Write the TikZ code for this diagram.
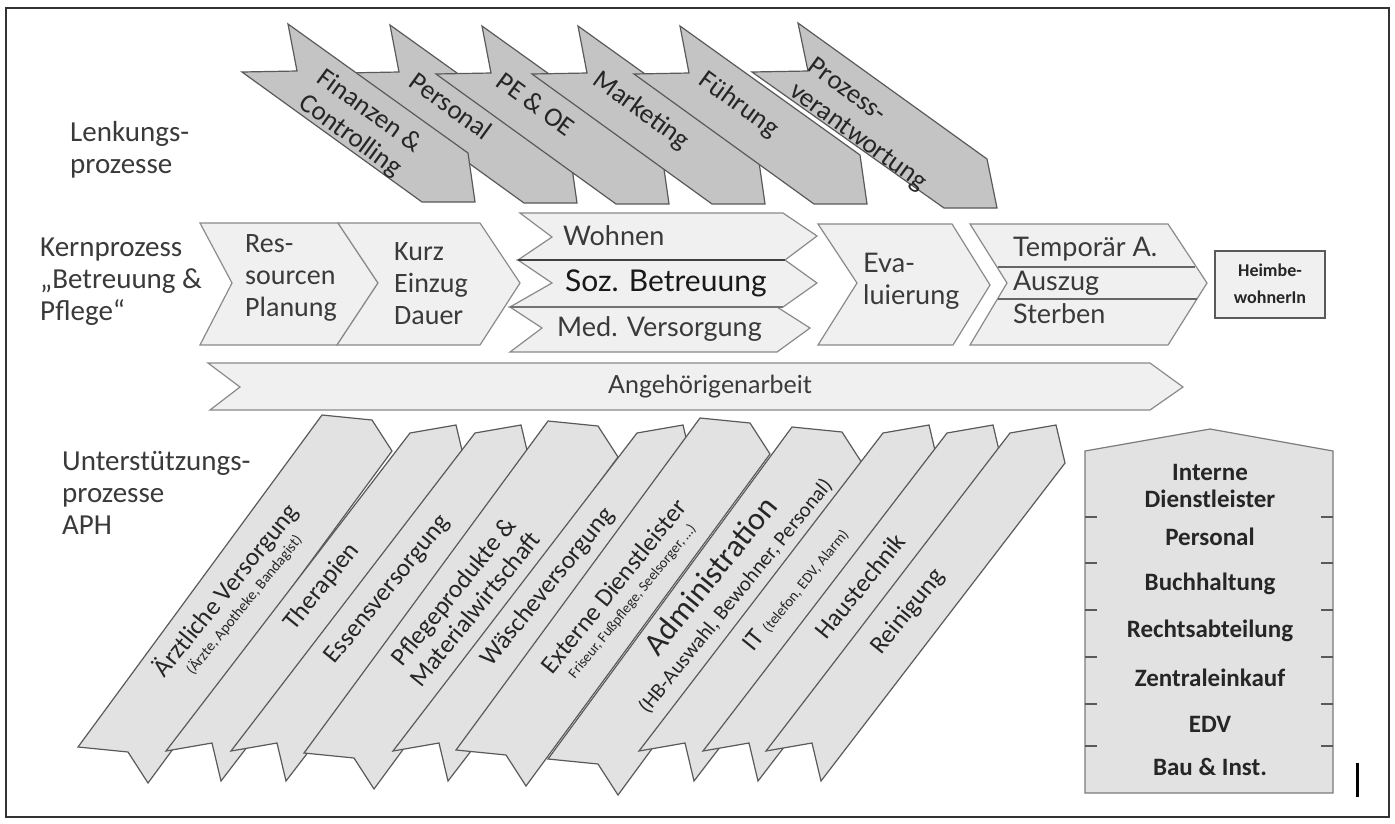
\documentclass[tikz,border=0pt]{standalone}
\usepackage{fontspec}
\setmainfont{Carlito}
\newfontfamily\latofont{Lato}
\definecolor{topfill}{HTML}{C4C4C4}
\definecolor{coref}{HTML}{F0F0F0}
\definecolor{supf}{HTML}{E2E2E2}
\definecolor{edgeg}{HTML}{5A5A5A}
\definecolor{coreedge}{HTML}{8A8A8A}
\definecolor{txtg}{HTML}{3A3A3A}
\newcommand{\toparrowsmall}[2]{\draw[toparrow] (#1,#2) -- ++(180,129) -- ++(7,49) -- ++(-53,0) -- ++(-180,-130) -- ++(55,-1) -- cycle;}
\newcommand{\suparrA}[2]{\draw[suparrow] (#1,#2) -- ++(46,-8) -- ++(9,38) -- ++(-244,318) -- ++(-9,-38) -- ++(-46,8) -- cycle;}
\newcommand{\suparrB}[2]{\draw[suparrow] (#1,#2) -- ++(50,5) -- ++(20,31) -- ++(-244,332) -- ++(-20,-31) -- ++(-50,-5) -- cycle;}
\begin{document}
\begin{tikzpicture}[x=1pt,y=-1pt,
  toparrow/.style={fill=topfill,draw=edgeg,line width=1.2pt,line join=miter},
  coreshape/.style={fill=coref,draw=coreedge,line width=1.2pt,line join=miter},
  suparrow/.style={fill=supf,draw=edgeg,line width=1.2pt,line join=miter},
  sidelabel/.style={anchor=west,align=left,text=txtg,font=\fontsize{29}{32}\selectfont,inner sep=0pt},
  toptxt/.style={rotate=-36,align=left,text=black!85,font=\fontsize{27}{31}\selectfont,inner sep=0pt},
  coretxt/.style={anchor=west,align=left,text=txtg,font=\fontsize{28}{32}\selectfont,inner sep=0pt},
  latotxt/.style={anchor=west,align=left,text=txtg,font=\latofont\fontsize{27}{32}\selectfont,inner sep=0pt},
  suptxt/.style={rotate=51,align=center,text=black!85,font=\fontsize{25.5}{26}\selectfont,inner sep=0pt},
  boxtxt/.style={text=black!85,font=\bfseries\fontsize{25}{27}\selectfont,inner sep=0pt}
]
\useasboundingbox (0,0) rectangle (1395,823);
\fill[white] (0,0) rectangle (1395,823);
\draw[line width=1.6pt,black!80] (6,8) rectangle (1389,817);

% ---------- Lenkungsprozesse ----------
\toparrowsmall{390}{25}
\toparrowsmall{482}{26}
\toparrowsmall{578}{26}
\toparrowsmall{680}{26}
\draw[toparrow] (798,23) -- ++(189,136) -- ++(10,49) -- ++(-53,0) -- ++(-192,-136) -- ++(56,-1) -- cycle;
\toparrowsmall{288}{24}

\node[toptxt] (tfin) at (360,124) {Finanzen \&\\Controlling};
\node[toptxt] (tpers) at (451,106) {Personal};
\node[toptxt] (tpe) at (536,104) {PE \& OE};
\node[toptxt] (tmark) at (641,111) {Marketing};
\node[toptxt] (tfue) at (739,105) {Führung};
\node[toptxt] (tproz) at (867,125) {Prozess-\\verantwortung};

% ---------- side labels ----------
\node[sidelabel] (llenk) at (70,150) {Lenkungs-\\prozesse};
\node[sidelabel] (lkern) at (40,282) {Kernprozess\\„Betreuung \&\\Pflege“};
\node[sidelabel] (lunt) at (62,493) {Unterstützungs-\\prozesse\\APH};

% ---------- Kernprozess ----------
\draw[coreshape] (200,223) -- (338,223) -- (378,283) -- (337,345) -- (200,345) -- (232,283) -- cycle;
\draw[coreshape] (338,223) -- (480,223) -- (520,283) -- (480,345) -- (337,345) -- (378,283) -- cycle;
\draw[coreshape] (520,213) -- (783,213) -- (817,236) -- (785,260) -- (518,260) -- (552,237) -- cycle;
\draw[coreshape] (518,260) -- (785,260) -- (817,283) -- (783,307) -- (510,307) -- (552,283) -- cycle;
\draw[coreshape] (510,307) -- (777,307) -- (810,328) -- (777,352) -- (510,352) -- (542,328) -- cycle;
\draw[line width=2.2pt,black!75] (518,260) -- (785,260);
\draw[line width=1.5pt,black!55] (510,307) -- (783,307);
\draw[coreshape] (818,224) -- (952,224) -- (990,285) -- (953,345) -- (818,345) -- (857,283) -- cycle;
\draw[coreshape] (970,224) -- (1168,224) -- (1207,283) -- (1168,345) -- (970,345) -- (1007,283) -- cycle;
\draw[line width=1.5pt,black!60] (998,267) -- (1195,267);
\draw[line width=1.5pt,black!60] (998,299) -- (1197,299);
\draw[fill=coref,draw=edgeg,line width=1.2pt] (1215,251) rectangle (1325,318);

\node[coretxt] (kres) at (245,278) {Res-\\sourcen\\Planung};
\node[coretxt] (kkurz) at (394,284) {Kurz\\Einzug\\Dauer};
\node[latotxt] (kwoh) at (563,236) {Wohnen};
\node[latotxt,text=black!90,font=\latofont\fontsize{30}{32}\selectfont] (ksoz) at (565,283) {Soz. Betreuung};
\node[latotxt] (kmed) at (557,329) {Med. Versorgung};
\node[latotxt] (keva) at (863,281) {Eva-\\luierung};
\node[latotxt] (ktemp) at (1013,249) {Temporär A.};
\node[latotxt] (kaus) at (1013,283) {Auszug};
\node[latotxt] (kster) at (1013,314) {Sterben};
\node[align=center,text=black!85,font=\bfseries\fontsize{18}{27}\selectfont,inner sep=0pt] (kheim) at (1270,284) {Heimbe-\\wohnerIn};

% ---------- Angehoerigenarbeit ----------
\draw[coreshape] (208,363) -- (1150,363) -- (1183,387) -- (1150,410) -- (210,410) -- (240,387) -- cycle;
\node[text=txtg,font=\latofont\fontsize{25}{28}\selectfont,inner sep=0pt] (kang) at (710,387) {Angehörigenarbeit};

% ---------- Unterstuetzungsprozesse ----------
\suparrB{322}{415}
\suparrA{410}{433}
\suparrA{475}{433}
\suparrB{548}{421}
\suparrA{637}{433}
\suparrB{700}{418}
\suparrB{792}{427}
\suparrA{883}{433}
\suparrA{947}{433}
\suparrA{1010}{433}

\node[suptxt] (s1) at (233,596) {Ärztliche Versorgung\\[-6pt]{\fontsize{15}{16}\selectfont (Ärzte, Apotheke, Bandagist)}};
\node[suptxt] (s2) at (322,587) {Therapien};
\node[suptxt] (s3) at (388,590) {Essensversorgung};
\node[suptxt,font=\fontsize{25.5}{28}\selectfont] (s4) at (464,600) {Pflegeprodukte \&\\Materialwirtschaft};
\node[suptxt] (s5) at (548,587) {Wäscheversorgung};
\node[suptxt] (s6) at (622,593) {Externe Dienstleister\\[-6pt]{\fontsize{14.5}{16}\selectfont Friseur, Fußpflege, Seelsorger, …)}};
\node[suptxt] (s7) at (722,585) {{\fontsize{32}{32}\selectfont Administration}\\[2pt]{\fontsize{21}{22}\selectfont (HB-Auswahl, Bewohner, Personal)}};
\node[suptxt] (s8) at (796,589) {IT {\fontsize{15}{16}\selectfont (telefon, EDV, Alarm)}};
\node[suptxt] (s9) at (860,586) {Haustechnik};
\node[suptxt] (s10) at (908,612) {Reinigung};

% ---------- Interne Dienstleister ----------
\draw[fill=supf,draw=edgeg!80,line width=1.2pt] (1085,451) -- (1210,429) -- (1333,451) -- (1333,793) -- (1085,793) -- cycle;
\foreach \yy in {517,563,610,657,704,746} {
  \draw[line width=1.2pt,edgeg] (1085,\yy) -- (1097,\yy);
  \draw[line width=1.2pt,edgeg] (1321,\yy) -- (1333,\yy);
}
\node[boxtxt] (i1) at (1210,472) {Interne};
\node[boxtxt] (i2) at (1210,499) {Dienstleister};
\node[boxtxt] (i3) at (1210,537) {Personal};
\node[boxtxt] (i4) at (1210,584) {Buchhaltung};
\node[boxtxt] (i5) at (1210,631) {Rechtsabteilung};
\node[boxtxt] (i6) at (1210,678) {Zentraleinkauf};
\node[boxtxt] (i7) at (1210,724) {EDV};
\node[boxtxt] (i8) at (1210,767) {Bau \& Inst.};

\draw[line width=3pt,black] (1357,763) -- (1357,797);
\end{tikzpicture}
\end{document}
